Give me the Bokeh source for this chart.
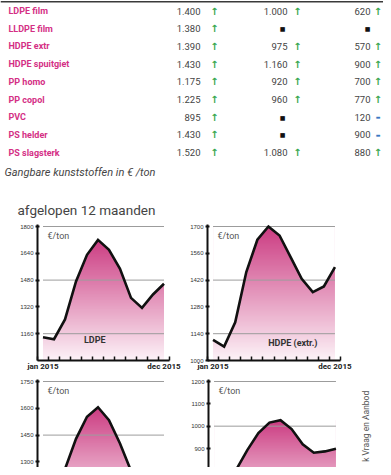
import numpy as np
from bokeh.plotting import figure
from bokeh.layouts import column, row
from bokeh.models import FixedTicker, Range1d, Label, Span
from bokeh.core.properties import value
from bokeh.embed import file_html
from bokeh.resources import INLINE

# ---------------- table data ----------------
products = ["LDPE film", "LLDPE film", "HDPE extr", "HDPE spuitgiet", "PP homo",
            "PP copol", "PVC", "PS helder", "PS slagsterk"]
col1_values = ["1.400", "1.380", "1.390", "1.430", "1.175", "1.225", "895", "1.430", "1.520"]
col1_trend = ["up", "up", "up", "up", "up", "up", "up", "up", "up"]
col2_values = ["1.000", "", "975", "1.160", "920", "960", "", "", "1.080"]
col2_trend = ["up", "na", "up", "up", "up", "up", "na", "na", "up"]
col3_values = ["620", "", "570", "900", "700", "770", "120", "900", "880"]
col3_trend = ["up", "na", "up", "up", "up", "up", "eq", "eq", "up"]

caption = "Gangbare kunststoffen in € /ton"
subtitle = "afgelopen 12 maanden"
source_note = "k Vraag en Aanbod"

# ---------------- chart data ----------------
months = ["jan", "feb", "mrt", "apr", "mei", "jun", "jul", "aug", "sep", "okt", "nov", "dec"]
x_labels = ["jan 2015", "dec 2015"]
ldpe = [1139, 1127, 1245, 1472, 1631, 1720, 1661, 1547, 1374, 1314, 1394, 1458]
hdpe = [1108, 1073, 1200, 1462, 1631, 1700, 1653, 1540, 1427, 1357, 1387, 1488]
chart3 = [1150, 1135, 1260, 1429, 1553, 1606, 1534, 1403, 1250, 1190, 1210, 1240]
chart4 = [740, 720, 805, 893, 969, 1016, 1027, 987, 919, 881, 887, 899]

ldpe_ticks = [1000, 1160, 1320, 1480, 1640, 1800]
ldpe_grid = [1160, 1480, 1800]
hdpe_ticks = [1000, 1140, 1280, 1420, 1560, 1700]
hdpe_grid = [1140, 1420, 1700]
c3_ticks = [1000, 1150, 1300, 1450, 1600, 1750]
c3_grid = [1150, 1450, 1750]
c4_ticks = [600, 700, 800, 900, 1000, 1100, 1200]
c4_grid = [800, 1000, 1200]

PINK = "#d42f85"
GRAY = "#444444"
GREEN = "#3aa74f"
BLUE = "#3a78c2"

# ---------------- top (table) figure ----------------
W = 383
TOP_H = 218
top = figure(width=W, height=TOP_H, x_range=Range1d(0, W), y_range=Range1d(TOP_H, 0),
             output_backend="svg", toolbar_location=None, min_border=0)
top.axis.visible = False
top.grid.visible = False
top.outline_line_color = None
top.add_layout(Span(location=1.2, dimension="width", line_color="#3a3a3a", line_width=1.6))

row_y = [10.5 + i * 17.7 for i in range(len(products))]
top.text(x=[8] * len(products), y=row_y, text=products, text_color=PINK,
         text_font=value("Roboto"), text_font_style="bold", text_font_size="9px",
         text_baseline="middle", text_align="left")

cols = [(col1_values, col1_trend, 200, 214, 196),
        (col2_values, col2_trend, 287, 297, 282),
        (col3_values, col3_trend, 370, 377.5, 367)]
for vals, trends, vx, ax, sx in cols:
    top.text(x=[vx] * len(vals), y=row_y, text=vals, text_color=GRAY,
             text_font=value("Roboto"), text_font_size="9.5px",
             text_baseline="middle", text_align="right")
    up_y = [y for y, t in zip(row_y, trends) if t == "up"]
    na_y = [y for y, t in zip(row_y, trends) if t == "na"]
    eq_y = [y for y, t in zip(row_y, trends) if t == "eq"]
    top.text(x=[ax] * len(up_y), y=up_y, text=["↑"] * len(up_y), text_color=GREEN,
             text_font=value("DejaVu Sans"), text_font_style="bold", text_font_size="10px",
             text_baseline="middle", text_align="center")
    top.text(x=[sx] * len(na_y), y=na_y, text=["■"] * len(na_y), text_color="#111111",
             text_font=value("DejaVu Sans"), text_font_size="6px",
             text_baseline="middle", text_align="center")
    top.text(x=[ax] * len(eq_y), y=eq_y, text=["▬"] * len(eq_y), text_color=BLUE,
             text_font=value("DejaVu Sans"), text_font_size="5px",
             text_baseline="middle", text_align="center")

top.text(x=[4], y=[172], text=[caption], text_color=GRAY, text_font=value("Roboto"),
         text_font_style="italic", text_font_size="11px", text_baseline="middle")
top.text(x=[17], y=[209], text=[subtitle], text_color=GRAY, text_font=value("Roboto"),
         text_font_size="13.5px", text_baseline="middle")


# ---------------- charts ----------------
def gradient_image(n=160):
    light = np.array([253, 243, 248])
    dark = np.array([204, 60, 130])
    t = np.linspace(0, 1, n)[:, None]
    rgb = (light + (dark - light) * t).astype(np.uint8)
    img = np.empty((n, 1), dtype=np.uint32)
    view = img.view(dtype=np.uint8).reshape((n, 1, 4))
    view[:, 0, 0] = rgb[:, 0]
    view[:, 0, 1] = rgb[:, 1]
    view[:, 0, 2] = rgb[:, 2]
    view[:, 0, 3] = 255
    return img


def make_chart(vals, ticks, grids, width, height, left, right, bottom, label=None,
               label_pos=None, show_x=True, full_frame_h=134, pad_top=2, top_border=8):
    full_start, full_end = ticks[0], ticks[-1]
    ppu = full_frame_h / (full_end - full_start)
    frame_h = height - (top_border - pad_top) - bottom
    y_end = full_end + pad_top / ppu
    y_start = y_end - frame_h / ppu
    p = figure(width=width, height=height, x_range=Range1d(0, 12),
               y_range=Range1d(y_start, y_end), output_backend="svg", toolbar_location=None,
               min_border_left=left, min_border_right=right,
               min_border_top=top_border - pad_top, min_border_bottom=bottom)
    p.outline_line_color = None
    p.grid.visible = False
    p.background_fill_color = "white"
    p.border_fill_color = "white"

    xs = [i + 0.5 for i in range(len(months))]
    vmax = max(vals)
    p.image_rgba(image=[gradient_image()], x=xs[0], y=full_start, dw=xs[-1] - xs[0],
                 dh=vmax - full_start)
    # white mask above the price line hides the part of the gradient outside the area
    p.varea(x=xs, y1=vals, y2=[y_end] * len(vals), fill_color="white")
    p.segment(x0=[xs[0]] * len(grids), x1=[xs[-1]] * len(grids), y0=grids, y1=grids,
              line_color="#9c9c9c", line_width=1)
    p.line(xs, vals, line_color="#111111", line_width=2.6, line_join="miter")

    ya = p.yaxis[0]
    ya.ticker = FixedTicker(ticks=ticks)
    ya.axis_line_width = 2
    ya.axis_line_color = "#111111"
    ya.major_tick_in = 2
    ya.major_tick_out = 2
    ya.major_tick_line_width = 2
    ya.major_tick_line_color = "#111111"
    ya.minor_tick_line_color = None
    ya.major_label_standoff = 2
    ya.major_label_text_font = "Liberation Sans"
    ya.major_label_text_font_size = "6px"
    ya.major_label_text_color = "#333333"

    xa = p.xaxis[0]
    if show_x:
        xa.ticker = FixedTicker(ticks=[xs[0], xs[-1]], minor_ticks=list(range(13)))
        xa.major_label_overrides = {xs[0]: x_labels[0], xs[-1]: x_labels[1]}
        xa.axis_line_width = 2
        xa.axis_line_color = "#111111"
        xa.major_tick_in = 0
        xa.major_tick_out = 0
        xa.minor_tick_in = 4
        xa.minor_tick_out = 0
        xa.minor_tick_line_width = 1.5
        xa.minor_tick_line_color = "#111111"
        xa.major_label_standoff = 1
        xa.major_label_text_font = "Roboto"
        xa.major_label_text_font_style = "bold"
        xa.major_label_text_font_size = "8px"
        xa.major_label_text_color = "#222222"
    else:
        xa.visible = False

    # "€/ton" label, 10px right of axis and 9px below top tick
    ppx = (width - left - right) / 12.0
    p.add_layout(Label(x=10 / ppx, y=full_end - 9 / ppu, text="€/ton", text_color="#555555",
                       text_font="Roboto", text_font_size="9px", text_baseline="middle"))
    if label:
        p.add_layout(Label(x=label_pos[0], y=label_pos[1], text=label, text_color="#333333",
                           text_font="Roboto", text_font_style="bold", text_font_size="9px",
                           text_baseline="middle", text_align="center"))
    return p


c1 = make_chart(ldpe, ldpe_ticks, ldpe_grid, 185, 155, 37, 16, 13, label="LDPE",
                label_pos=(5.2, 1120))
c2 = make_chart(hdpe, hdpe_ticks, hdpe_grid, 198, 155, 22, 43, 13, label="HDPE (extr.)",
                label_pos=(7.7, 1090))
c3 = make_chart(chart3, c3_ticks, c3_grid, 185, 94, 37, 16, 0, show_x=False)
c4 = make_chart(chart4, c4_ticks, c4_grid, 165, 94, 23, 9, 0, show_x=False)

side = figure(width=33, height=94, x_range=Range1d(350, 383), y_range=Range1d(467, 373),
              output_backend="svg", toolbar_location=None, min_border=0)
side.axis.visible = False
side.grid.visible = False
side.outline_line_color = None
side.text(x=[365], y=[385], text=[source_note], angle=np.pi / 2, text_color="#555555",
          text_font=value("Roboto"), text_font_size="8.5px", text_align="right",
          text_baseline="middle")

layout = column(top, row(c1, c2), row(c3, c4, side))
open("out.html", "w").write(file_html(layout, INLINE))
